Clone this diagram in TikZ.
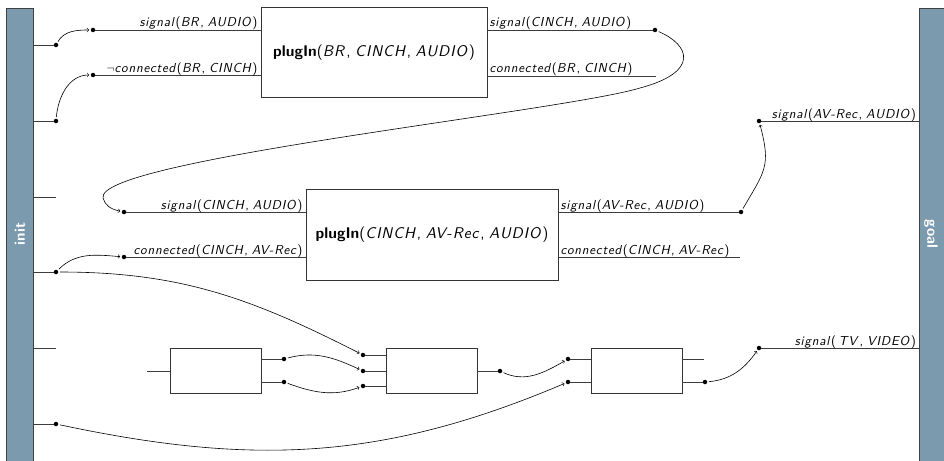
\documentclass[tikz,border=0pt]{standalone}
\usepackage{fontspec}
\newfontfamily\lblfont{lmsans10-regular.otf}[ItalicFont=lmsans10-oblique.otf, BoldFont=lmsans10-bold.otf, ItalicFeatures={LetterSpace=6}]
\newcommand{\cm}{,\hspace{0.3em}}
\usetikzlibrary{calc}
\definecolor{barcol}{RGB}{123,154,174}
\definecolor{linecol}{RGB}{60,60,60}
\begin{document}
\begin{tikzpicture}[x=1pt,y=-1pt,
  bar/.style={fill=barcol,draw=black!75,line width=0.9pt,minimum width=27pt,minimum height=470pt,inner sep=0pt,anchor=north west},
  bartext/.style={text=white,font=\sffamily\bfseries\fontsize{15}{17}\selectfont},
  actbox/.style={draw=black!80,line width=0.8pt,fill=white,inner sep=0pt,font=\lblfont\fontsize{15.5}{18}\selectfont},
  dotn/.style={circle,fill=black,inner sep=0pt,minimum size=4.5pt},
  pt/.style={inner sep=0pt,minimum size=0pt},
  wire/.style={draw=linecol,line width=0.8pt},
  link/.style={draw=black,line width=0.6pt,->,shorten >=1.5pt,shorten <=1.5pt},
  lbl/.style={inner sep=0pt,font=\lblfont\fontsize{13}{15}\selectfont}
]
\useasboundingbox (0,0) rectangle (944,460);
\clip (0,0) rectangle (944,460);

% bars
\node[bar] (init) at (6,8) {};
\node[bar] (goal) at (919,8) {};
\node[bartext,rotate=90] (initT) at (20,234) {init};
\node[bartext,rotate=-90] (goalT) at (931,234) {goal};

% action boxes
\node[actbox,minimum width=226pt,minimum height=90.5pt] (A1) at (374,52.5) {\textbf{plugIn}(\textit{BR}\cm\textit{CINCH}\cm\textit{AUDIO})};
\node[actbox,minimum width=252pt,minimum height=91pt] (A2) at (432,234.5) {\textbf{plugIn}(\textit{CINCH}\cm\textit{AV-Rec}\cm\textit{AUDIO})};
\node[actbox,minimum width=91pt,minimum height=45pt] (B1) at (215.5,370.5) {};
\node[actbox,minimum width=91pt,minimum height=45pt] (B2) at (431.5,370.5) {};
\node[actbox,minimum width=91pt,minimum height=45pt] (B3) at (636.5,370.5) {};

% init stubs
\node[dotn] (s1) at (56,45) {};
\node[dotn] (s2) at (56,121) {};
\node[pt] (s3) at (56,197) {};
\node[dotn] (s4) at (56,272) {};
\node[pt] (s5) at (56,348) {};
\node[dotn] (s6) at (56,424) {};
\foreach \s in {s1,s2,s3,s4,s5,s6} \draw[wire] (init.east |- \s) -- (\s);

% box A1
\node[dotn] (p1) at (93,30) {};
\node[dotn] (p2) at (93,75) {};
\node[dotn] (q1) at (655,30) {};
\node[pt] (q1b) at (656,76) {};
\draw[wire] (p1) -- (A1.west |- p1);
\draw[wire] (p2) -- (A1.west |- p2);
\draw[wire] (A1.east |- q1) -- (q1);
\draw[wire] (A1.east |- q1b) -- (q1b);
\node[lbl,anchor=base east] at ($(A1.west |- p1)+(-3,-3)$) {\textit{signal}(\textit{BR}\cm\textit{AUDIO})};
\node[lbl,anchor=base east] at ($(A1.west |- p2)+(-3,-3)$) {$\neg$\textit{connected}(\textit{BR}\cm\textit{CINCH})};
\node[lbl,anchor=base west] at ($(A1.east |- q1)+(2,-3)$) {\textit{signal}(\textit{CINCH}\cm\textit{AUDIO})};
\node[lbl,anchor=base west] at ($(A1.east |- q1b)+(2,-3)$) {\textit{connected}(\textit{BR}\cm\textit{CINCH})};

% box A2
\node[dotn] (p3) at (124,212) {};
\node[dotn] (p4) at (124,257) {};
\node[dotn] (q2) at (741,212) {};
\node[pt] (q2b) at (740,257) {};
\draw[wire] (p3) -- (A2.west |- p3);
\draw[wire] (p4) -- (A2.west |- p4);
\draw[wire] (A2.east |- q2) -- (q2);
\draw[wire] (A2.east |- q2b) -- (q2b);
\node[lbl,anchor=base east] at ($(A2.west |- p3)+(-3,-3)$) {\textit{signal}(\textit{CINCH}\cm\textit{AUDIO})};
\node[lbl,anchor=base east] at ($(A2.west |- p4)+(-3,-3)$) {\textit{connected}(\textit{CINCH}\cm\textit{AV-Rec})};
\node[lbl,anchor=base west] at ($(A2.east |- q2)+(2,-3)$) {\textit{signal}(\textit{AV-Rec}\cm\textit{AUDIO})};
\node[lbl,anchor=base west] at ($(A2.east |- q2b)+(2,-3)$) {\textit{connected}(\textit{CINCH}\cm\textit{AV-Rec})};

% goal inputs
\node[dotn] (g1) at (759,121) {};
\node[dotn] (g2) at (759,348) {};
\draw[wire] (g1) -- (goal.west |- g1);
\draw[wire] (g2) -- (goal.west |- g2);
\node[lbl,anchor=base east] at ($(goal.west |- g1)+(-3,-3)$) {\textit{signal}(\textit{AV-Rec}\cm\textit{AUDIO})};
\node[lbl,anchor=base east] at ($(goal.west |- g2)+(-3,-3)$) {\textit{signal}(\hspace{0.2em}\textit{TV}\cm\textit{VIDEO})};

% small boxes
\node[pt] (b1in) at (147,371) {};
\draw[wire] (b1in) -- (B1.west |- b1in);
\node[dotn] (b1o1) at (284,359) {};
\node[dotn] (b1o2) at (284,382) {};
\draw[wire] (B1.east |- b1o1) -- (b1o1);
\draw[wire] (B1.east |- b1o2) -- (b1o2);
\node[dotn] (b2i1) at (363,355) {};
\node[dotn] (b2i2) at (363,371) {};
\node[dotn] (b2i3) at (363,386) {};
\node[dotn] (b2o) at (500,371) {};
\draw[wire] (b2i1) -- (B2.west |- b2i1);
\draw[wire] (b2i2) -- (B2.west |- b2i2);
\draw[wire] (b2i3) -- (B2.west |- b2i3);
\draw[wire] (B2.east |- b2o) -- (b2o);
\node[dotn] (b3i1) at (568,359) {};
\node[dotn] (b3i2) at (568,382) {};
\node[pt] (b3o1) at (704,359) {};
\node[dotn] (b3o2) at (705,382) {};
\draw[wire] (b3i1) -- (B3.west |- b3i1);
\draw[wire] (b3i2) -- (B3.west |- b3i2);
\draw[wire] (B3.east |- b3o1) -- (b3o1);
\draw[wire] (B3.east |- b3o2) -- (b3o2);

% causal links
\draw[link] (s1) to[out=60,in=180] (p1);
\draw[link] (s2) to[out=85,in=180] (p2);
\draw[link] (q1) .. controls (690,45) and (700,72) .. (640,88)
  .. controls (560,112) and (95,160) .. (103,198)
  .. controls (105,205) and (110,209) .. (p3);
\draw[link] (s4) to[out=45,in=175] (p4);
\draw[link] (s4) to[out=0,in=153] (b2i1);
\draw[link] (q2) to[out=60,in=-75,looseness=1.3] (g1);
\draw[link] (b1o1) to[out=15,in=155] (b2i2);
\draw[link] (b1o2) to[out=-20,in=200] (b2i3);
\draw[link] (b2o) to[out=-25,in=210] (b3i1);
\draw[link] (s6) to[out=-12,in=203] (b3i2);
\draw[link] (b3o2) to[out=5,in=235] (g2);
\end{tikzpicture}
\end{document}
